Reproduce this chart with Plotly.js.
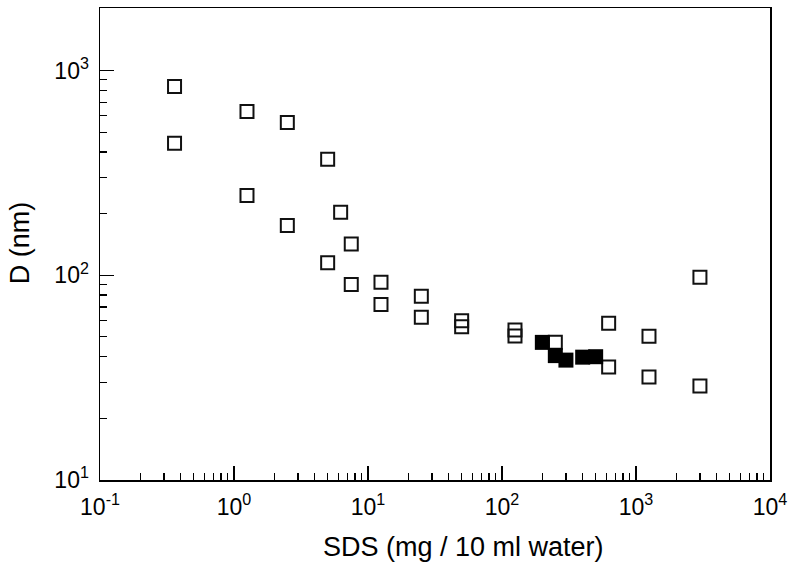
<!DOCTYPE html>
<html>
<head>
<meta charset="utf-8">
<script src="https://cdn.plot.ly/plotly-3.0.1.min.js"></script>
<style>html,body{margin:0;padding:0;background:#fff;}#chart{width:796px;height:573px;}</style>
</head>
<body>
<div id="chart"></div>
<script>
// Open squares
const openX = [0.36, 0.36, 1.25, 1.25, 2.5, 2.5, 5, 5, 6.25, 7.5, 7.5, 12.5, 12.5, 25, 25, 50, 50, 125, 125, 250, 625, 625, 1250, 1250, 3000, 3000];
const openY = [836, 441, 631, 245, 557, 175, 368, 115, 203, 142, 90, 92.5, 72, 79, 62.4, 60, 56, 54, 50.5, 47, 58.3, 35.6, 50.4, 31.8, 97.8, 28.8];
// Filled squares
const filledX = [200, 250, 300, 400, 500];
const filledY = [47, 40.5, 38.5, 39.8, 40];
// Tick labels
const xTickVals = [0.1, 1, 10, 100, 1000, 10000];
const xTickText = ['10<sup>-1</sup>', '10<sup>0</sup>', '10<sup>1</sup>', '10<sup>2</sup>', '10<sup>3</sup>', '10<sup>4</sup>'];
const yTickVals = [10, 100, 1000];
const yTickText = ['10<sup>1</sup>', '10<sup>2</sup>', '10<sup>3</sup>'];
const xTitle = 'SDS (mg / 10 ml water)';
const yTitle = 'D (nm)';

const FONT = 'Liberation Sans, Arial, sans-serif';

const traces = [
  {x: openX, y: openY, type: 'scatter', mode: 'markers',
   marker: {symbol: 'square-open', size: 13, color: '#111', line: {width: 2, color: '#111'}}},
  {x: filledX, y: filledY, type: 'scatter', mode: 'markers',
   marker: {symbol: 'square', size: 15, color: '#000', line: {width: 0}}}
];

function makeAxis(extra) {
  const a = {
    type: 'log', showgrid: false, zeroline: false,
    showline: true, linecolor: '#000', linewidth: 1.5, mirror: true,
    ticks: 'inside', ticklen: 14, tickwidth: 1.3, tickcolor: '#000',
    minor: {ticks: 'inside', ticklen: 7, tickwidth: 1.2, tickcolor: '#000', dtick: 'D1', showgrid: false},
    tickfont: {family: FONT, size: 23, color: '#000'}
  };
  return Object.assign(a, extra);
}

const layout = {
  width: 796, height: 573,
  margin: {l: 100, r: 26, t: 8, b: 93},
  paper_bgcolor: '#fff', plot_bgcolor: '#fff',
  showlegend: false,
  font: {family: FONT, color: '#000'},
  xaxis: makeAxis({
    range: [-1, 4], tickmode: 'array', tickvals: xTickVals, ticktext: xTickText,
    ticklabelstandoff: 6
  }),
  yaxis: makeAxis({
    range: [1, 3.305], tickmode: 'array', tickvals: yTickVals, ticktext: yTickText,
    ticklabelstandoff: 5
  }),
  annotations: [
    {text: xTitle, xref: 'paper', yref: 'paper', x: 0.543, y: -0.142,
     xanchor: 'center', yanchor: 'middle', showarrow: false, font: {family: FONT, size: 27, color: '#000'}},
    {text: yTitle, xref: 'paper', yref: 'paper', x: -0.119, y: 0.502,
     xanchor: 'center', yanchor: 'middle', textangle: -90, showarrow: false, font: {family: FONT, size: 27, color: '#000'}}
  ]
};

Plotly.newPlot('chart', traces, layout, {displayModeBar: false, staticPlot: true});
</script>
</body>
</html>
